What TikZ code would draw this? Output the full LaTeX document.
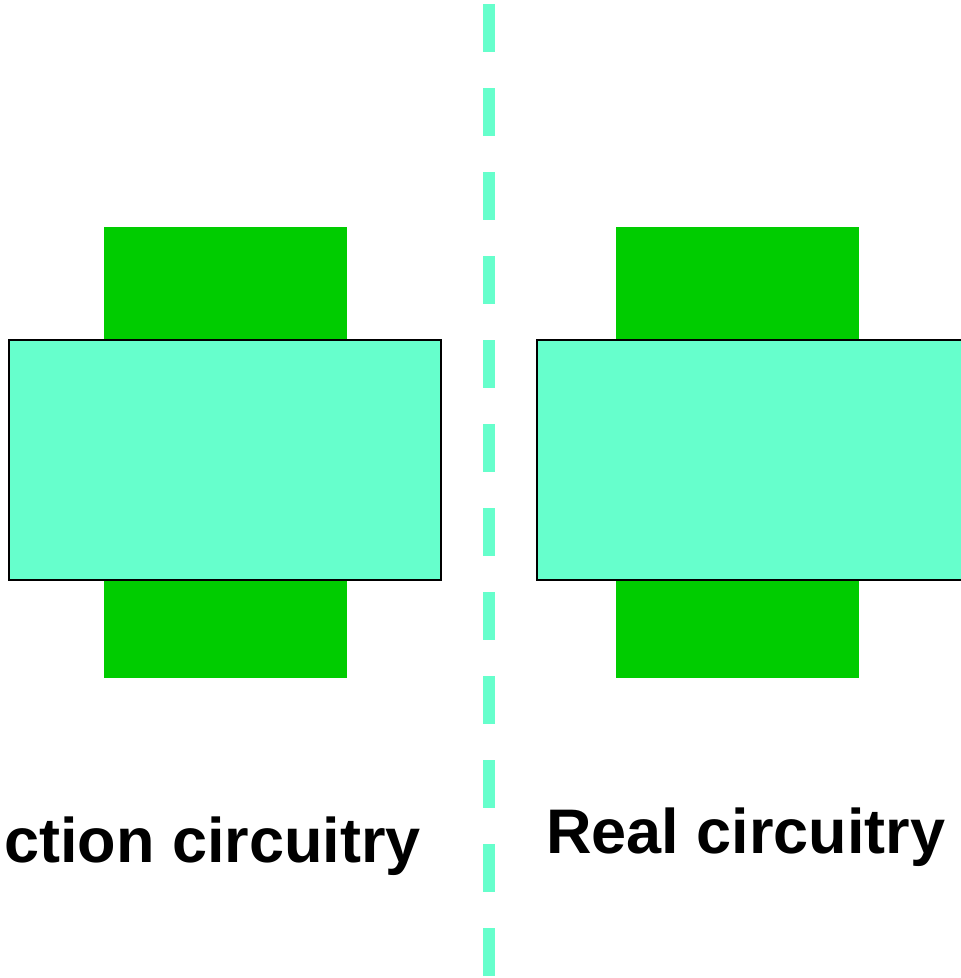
\documentclass[tikz,border=0pt]{standalone}
\usepackage{fontspec}
\setmainfont{Liberation Sans}
\usetikzlibrary{positioning}
\definecolor{padgreen}{HTML}{00CC00}
\definecolor{gatecyan}{HTML}{66FFCC}

\begin{document}
\begin{tikzpicture}[x=1pt,y=-1pt]
  \useasboundingbox (0,0) rectangle (961,978);
  \clip (0,0) rectangle (961,978);
  \coordinate (T) at (489,4);
  \coordinate (U) at (489,976);
  \draw[gatecyan, line width=12pt, dash pattern=on 48pt off 36pt] (T) -- (U);
  \foreach \g/\c in {104/9,616/537}{
    \pgfmathsetmacro\gb{\g+243}
    \pgfmathsetmacro\cb{\c+432}
    \fill[padgreen] (\g,227) rectangle (\gb,678);
    \draw[line width=2pt, fill=gatecyan] (\c,340) rectangle (\cb,580);
  }
  \node[anchor=base east, inner sep=0pt, font=\bfseries\fontsize{63}{76}\selectfont] (leftlab) at (421,862) {ction circuitry};
  \node[anchor=base, inner sep=0pt, font=\bfseries\fontsize{63}{76}\selectfont] (rightlab) at (746,853) {Real circuitry};
\end{tikzpicture}
\end{document}
